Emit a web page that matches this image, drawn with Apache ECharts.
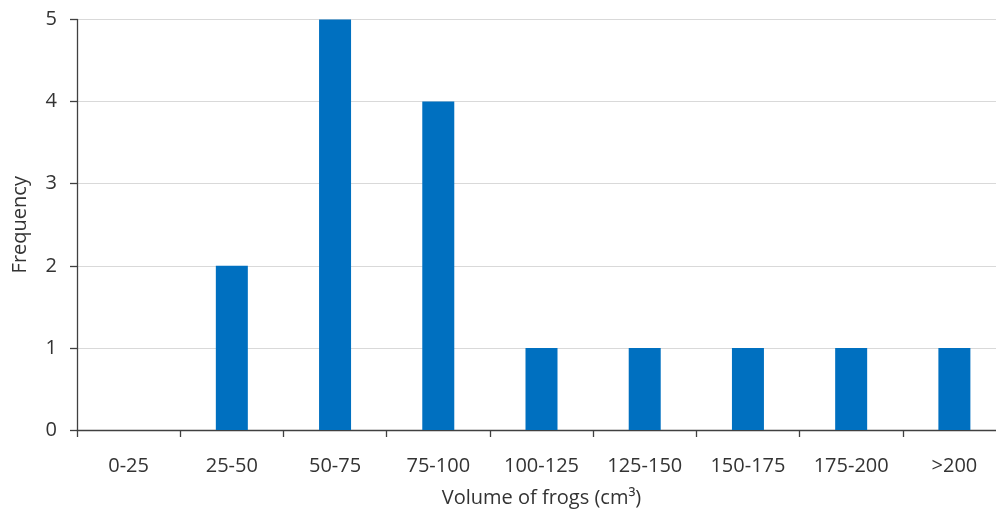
<!DOCTYPE html>
<html><head><meta charset="utf-8">
<script src="https://cdn.jsdelivr.net/npm/echarts@6/dist/echarts.min.js"></script>
<style>html,body{margin:0;padding:0;background:#fff}#c{width:996px;height:516px}</style>
</head><body><div id="c"></div>
<script>
const categories = ['0-25','25-50','50-75','75-100','100-125','125-150','150-175','175-200','>200'];
const frequency = [0,2,5,4,1,1,1,1,1];
const yTicks = [0,1,2,3,4,5];

const chart = echarts.init(document.getElementById('c'));
const font = '"Open Sans", sans-serif';
chart.setOption({
  animation:false,
  grid:{left:77,right:-10,top:19.5,bottom:86,containLabel:false,outerBoundsMode:'none'},
  xAxis:{
    type:'category',data:categories,
    name:'Volume of frogs (cm³)',nameLocation:'middle',nameGap:58,
    nameTextStyle:{fontFamily:font,fontSize:20,color:'#333333'},
    axisLine:{lineStyle:{color:'#404040',width:1.3}},
    axisTick:{show:true,length:7,alignWithLabel:false,lineStyle:{color:'#404040',width:1.3}},
    axisLabel:{fontFamily:font,fontSize:20,color:'#333333',margin:26}
  },
  yAxis:{
    type:'value',min:yTicks[0],max:yTicks[yTicks.length-1],interval:1,
    name:'Frequency',nameLocation:'middle',nameGap:47,
    nameTextStyle:{fontFamily:font,fontSize:20,color:'#333333'},
    axisLine:{show:true,lineStyle:{color:'#404040',width:1.3}},
    axisTick:{show:true,length:7,lineStyle:{color:'#404040',width:1.3}},
    axisLabel:{fontFamily:font,fontSize:20,color:'#333333',margin:20},
    splitLine:{show:true,lineStyle:{color:'#d9d9d9',width:1}}
  },
  series:[{
    type:'bar',data:frequency,barWidth:32,
    itemStyle:{color:'#0070C0'}
  }]
});
</script></body></html>
